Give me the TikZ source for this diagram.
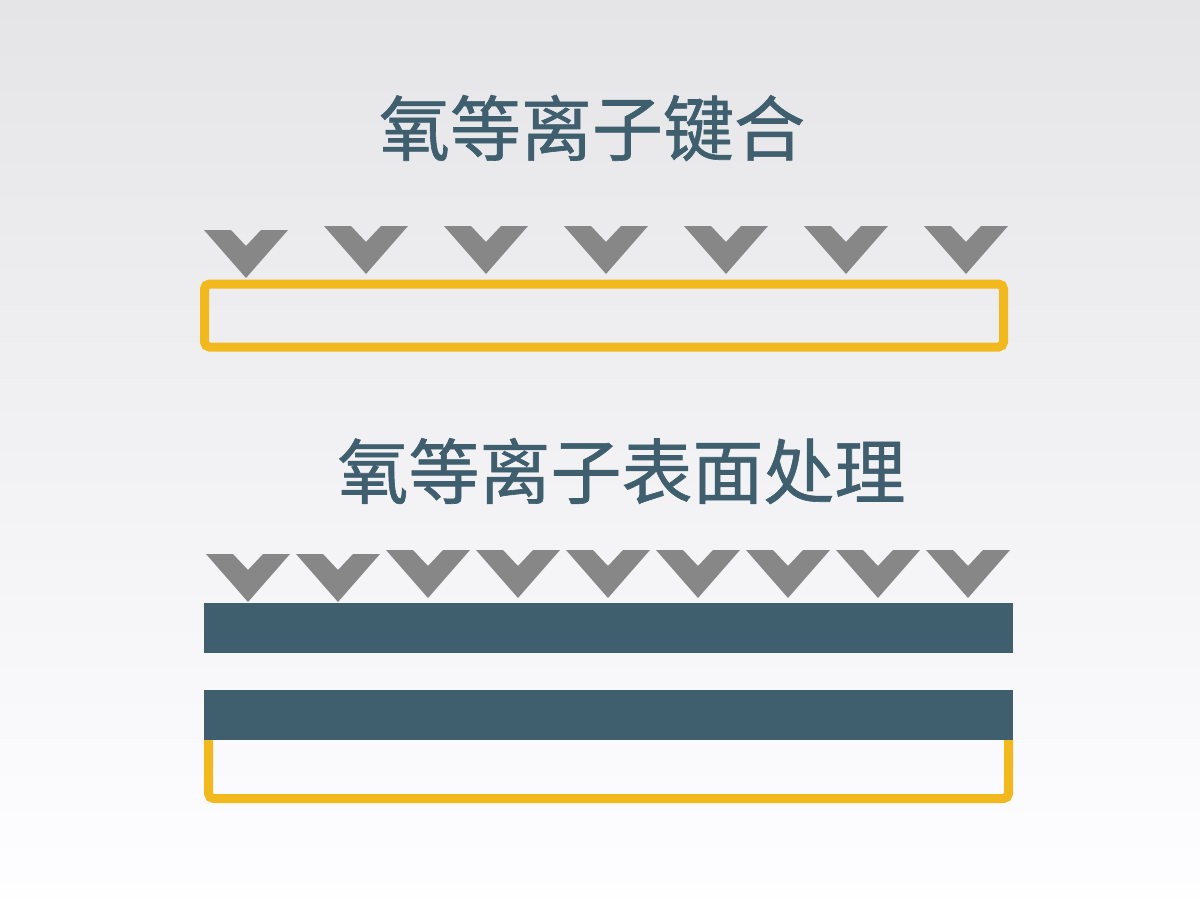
\documentclass[tikz,border=0pt]{standalone}
\usepackage{fontspec}
\newfontfamily\cjk{Noto Sans CJK SC}[FakeBold=0.9]
\definecolor{bgtop}{HTML}{E5E4E7}
\definecolor{bgmid}{HTML}{F6F5F8}
\definecolor{bgbot}{HTML}{FEFDFF}
\definecolor{chevgray}{HTML}{878787}
\definecolor{slate}{HTML}{3F5F6F}
\definecolor{gold}{HTML}{F2B91F}
\tikzset{
  chevron/.pic={\fill[chevgray] (0,0) -- (42,48) -- (84,0) -- (57,0) -- (42,16) -- (27,0) -- cycle;},
  title/.style={font=\cjk\fontsize{71}{80}\selectfont, text=slate, inner sep=0pt, anchor=center},
  goldbox/.style={draw=gold, line width=9pt, rounded corners=5pt},
  band/.style={fill=slate}
}
\begin{document}
\begin{tikzpicture}[x=1pt,y=-1pt]
\useasboundingbox (0,0) rectangle (1200,900);
\shade[top color=bgtop, middle color=bgmid, bottom color=bgbot] (0,0) rectangle (1200,900);
% top section
\node[title] (t1) at (592,128) {氧等离子键合};
\pic at (204,230) {chevron};
\foreach \i in {1,...,6} {\pic at (204+120*\i,226) {chevron};}
\draw[goldbox] (204.5,284) rectangle (1003.5,347);
% bottom section
\node[title] (t2) at (621.5,471) {氧等离子表面处理};
\pic at (206,554) {chevron};
\pic at (296,554) {chevron};
\foreach \i in {2,...,8} {\pic at (206+90*\i,550) {chevron};}
\draw[goldbox] (208.5,735) rectangle (1008.5,798.5);
\fill[band] (204,603) rectangle (1013,653);
\fill[band] (204,690) rectangle (1013,740);
\end{tikzpicture}
\end{document}
